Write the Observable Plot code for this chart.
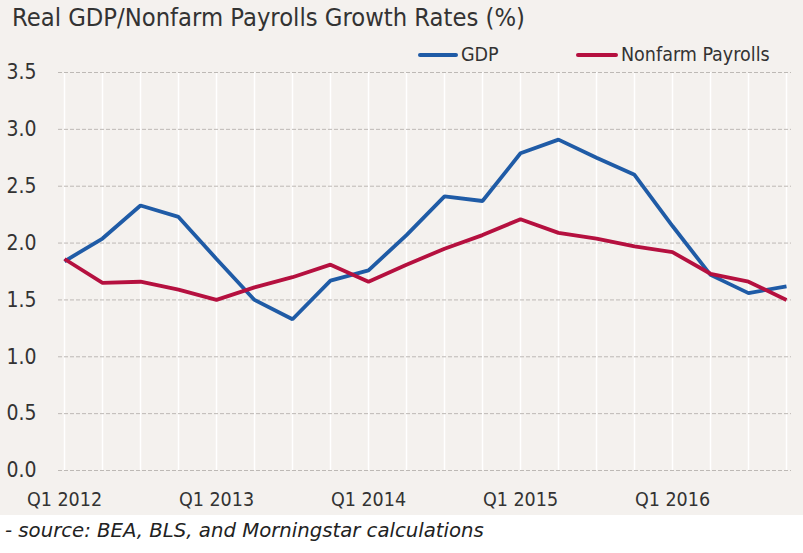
<!DOCTYPE html>
<html>
<head>
<meta charset="utf-8">
<script src="https://cdn.jsdelivr.net/npm/d3@7"></script>
<script src="https://cdn.jsdelivr.net/npm/@observablehq/plot@0.6"></script>
<style>
  html, body { margin: 0; padding: 0; background: #ffffff; }
  #wrap { position: relative; width: 803px; height: 553px; }
  #panel { position: absolute; left: 0; top: 0; width: 803px; height: 515px; background: #f4f1ee; }
  .cond { font-family: "Liberation Sans Narrow", "DejaVu Sans Condensed", "Arial Narrow", sans-serif; font-stretch: condensed; color: #333; }
  #title { position: absolute; left: 12px; top: 3px; font-size: 25.3px; white-space: nowrap; }
  .leg { position: absolute; top: 43px; font-size: 19.5px; white-space: nowrap; display: flex; align-items: center; }
  .leg span.sw { display: inline-block; width: 40px; height: 4px; border-radius: 2px; margin-right: 3px; }
  #caption { position: absolute; left: 5px; top: 519px; font-family: "DejaVu Sans", Verdana, sans-serif; font-style: italic; font-size: 19.7px; color: #222; white-space: nowrap; }
  #chart { position: absolute; left: 0; top: 0; }
</style>
</head>
<body>
<div id="wrap">
  <div id="panel"></div>
  <div id="chart"></div>
  <div id="title" class="cond">Real GDP/Nonfarm Payrolls Growth Rates (%)</div>
  <div class="leg cond" style="left:418px"><span class="sw" style="background:#1f5ba6"></span>GDP</div>
  <div class="leg cond" style="left:576px"><span class="sw" style="background:#b5103f;width:42px"></span>Nonfarm Payrolls</div>
  <div id="caption">- source: BEA, BLS, and Morningstar calculations</div>
</div>
<script>
const quarters = [
  "Q1 2012","Q2 2012","Q3 2012","Q4 2012",
  "Q1 2013","Q2 2013","Q3 2013","Q4 2013",
  "Q1 2014","Q2 2014","Q3 2014","Q4 2014",
  "Q1 2015","Q2 2015","Q3 2015","Q4 2015",
  "Q1 2016","Q2 2016","Q3 2016","Q4 2016"
];
const gdp = [1.84, 2.04, 2.33, 2.23, 1.86, 1.50, 1.33, 1.67, 1.76, 2.07, 2.41, 2.37, 2.79, 2.91, 2.75, 2.60, 2.15, 1.72, 1.56, 1.62];
const payrolls = [1.86, 1.65, 1.66, 1.59, 1.50, 1.61, 1.70, 1.81, 1.66, 1.81, 1.95, 2.07, 2.21, 2.09, 2.04, 1.97, 1.92, 1.73, 1.66, 1.50];
const yTicks = [0, 0.5, 1.0, 1.5, 2.0, 2.5, 3.0, 3.5];
const xTickLabels = ["Q1 2012","Q1 2013","Q1 2014","Q1 2015","Q1 2016"];

const seriesNames = ["GDP", "Nonfarm Payrolls"];
const colors = ["#1f5ba6", "#b5103f"];
const rows = [];
quarters.forEach((q, i) => {
  rows.push({q, series: seriesNames[0], v: gdp[i]});
  rows.push({q, series: seriesNames[1], v: payrolls[i]});
});

const chart = Plot.plot({
  width: 803,
  height: 515,
  marginTop: 72,
  marginBottom: 45,
  marginLeft: 58,
  marginRight: 12,
  style: {background: "transparent", fontFamily: "'Liberation Sans Narrow', 'DejaVu Sans Condensed', sans-serif", fontSize: "21px", color: "#333"},
  x: {type: "point", domain: quarters, padding: 0, label: null},
  y: {domain: [0, 3.5], label: null},
  color: {domain: seriesNames, range: colors},
  marks: [
    Plot.ruleX(quarters, {x: d => d, stroke: "#ffffff", strokeWidth: 1.5}),
    Plot.ruleY(yTicks, {y: d => d, stroke: "#bdb9b5", strokeWidth: 1, strokeDasharray: "4,2"}),
    Plot.axisY({ticks: yTicks, tickFormat: d3.format(".1f"), tickSize: 0, tickPadding: 22, fontSize: 21, fill: "#333"}),
    Plot.axisX({ticks: xTickLabels, tickSize: 0, tickPadding: 22, fontSize: 19.5, fill: "#333"}),
    Plot.line(rows, {x: "q", y: "v", z: "series", stroke: "series", strokeWidth: 3.8, strokeLinejoin: "miter", strokeLinecap: "butt"})
  ]
});
document.getElementById("chart").appendChild(chart);
</script>
</body>
</html>
